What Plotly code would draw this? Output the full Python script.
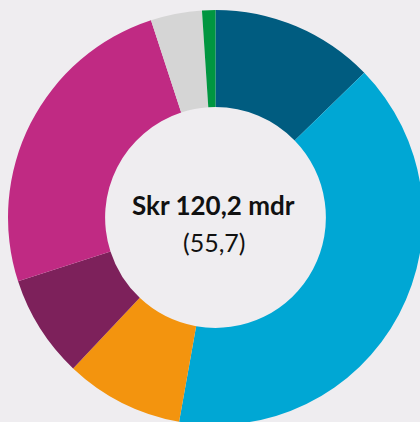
import plotly.graph_objects as go

# Data (share of total, mdr SEK), clockwise from 12 o'clock
segments = ["Segment A", "Segment B", "Segment C", "Segment D", "Segment E", "Segment F", "Segment G"]
values = [15.3, 48.2, 11.1, 9.6, 30.0, 4.8, 1.25]
colors = ["#005c80", "#00a7d4", "#f3940e", "#7d215b", "#c02a83", "#d5d5d5", "#009640"]
center_title = "Skr 120,2 mdr"
center_sub = "(55,7)"

W, H = 432, 432
cx, cy, r = 215.5, 217.5, 207.5  # pixel geometry from top-left

fig = go.Figure(go.Pie(
    labels=segments,
    values=values,
    marker=dict(colors=colors, line=dict(width=0)),
    hole=0.532,
    sort=False,
    direction="clockwise",
    rotation=0,
    textinfo="none",
    hoverinfo="label+value",
    showlegend=False,
    domain=dict(x=[(cx - r) / W, (cx + r) / W], y=[(H - cy - r) / H, (H - cy + r) / H]),
))

fig.add_annotation(x=213 / W, y=(H - 205) / H, xref="paper", yref="paper",
                   text="<b>" + center_title + "</b>", showarrow=False,
                   font=dict(family="Lato", size=26, color="#111111"))
fig.add_annotation(x=214 / W, y=(H - 242) / H, xref="paper", yref="paper",
                   text=center_sub, showarrow=False,
                   font=dict(family="Lato", size=25, color="#111111"))

fig.update_layout(
    width=W, height=H,
    margin=dict(l=0, r=0, t=0, b=0),
    paper_bgcolor="#efedf0",
    plot_bgcolor="#efedf0",
)

fig.write_html(
    "out.html",
    config=dict(displayModeBar=False),
    post_script="document.body.style.margin='0';document.body.style.overflow='hidden';"
                "document.documentElement.style.overflow='hidden';",
)
